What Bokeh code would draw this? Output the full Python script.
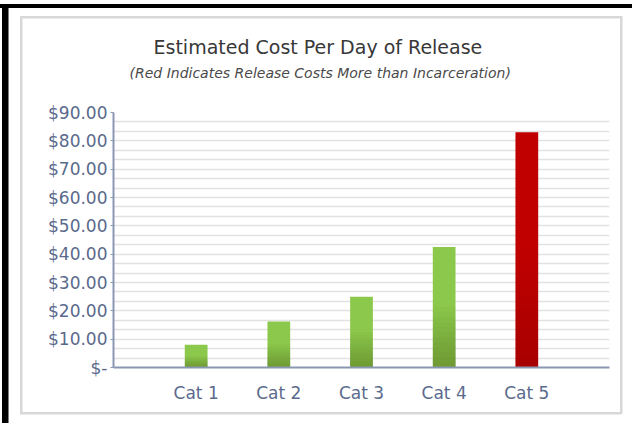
from bokeh.plotting import figure
from bokeh.models import Range1d, FixedTicker, Title
from bokeh.embed import file_html
from bokeh.resources import INLINE

# Data
categories = ["Cat 1", "Cat 2", "Cat 3", "Cat 4", "Cat 5"]
cost_per_day = [8.0, 16.25, 25.0, 42.5, 83.0]
exceeds_incarceration = [False, False, False, False, True]
y_ticks = [0, 10, 20, 30, 40, 50, 60, 70, 80, 90]
y_tick_labels = ["$-", "$10.00", "$20.00", "$30.00", "$40.00", "$50.00",
                 "$60.00", "$70.00", "$80.00", "$90.00"]

title_text = "Estimated Cost Per Day of Release"
subtitle_text = "(Red Indicates Release Costs More than Incarceration)"

GREEN = "#8cc84b"
RED = "#c00000"
AXIS = "#8a97b2"
LABEL = "#5a6a8c"
FONT = "DejaVu Sans"

W, H = 632, 423
FL, FR, FT, FB = 113, 23, 112, 56  # frame borders


def bar_line(w, h, x, y, color):
    # one solid rectangle painted into the page background
    return (f"linear-gradient({color},{color})", f"{w}px {h}px", f"{x}px {y}px")


decor = [
    bar_line(W, 4, 0, 3.5, "#000"),            # black top edge
    bar_line(6.5, H, 2, 3.5, "#000"),          # black left edge
    bar_line(601, 2.5, 20, 16, "#d8d8d8"),     # panel top
    bar_line(601, 2.5, 20, 411.5, "#d8d8d8"),  # panel bottom
    bar_line(2.5, 398, 20, 16, "#d8d8d8"),     # panel left
    bar_line(2.5, 398, 619.5, 16, "#d8d8d8"),  # panel right
]

p = figure(width=W, height=H, output_backend="svg", toolbar_location=None,
           x_range=Range1d(0, len(categories) + 1), y_range=Range1d(0, 90),
           min_border_left=FL, min_border_right=FR,
           min_border_top=FT, min_border_bottom=FB)
p.background_fill_color = "white"
p.border_fill_color = None
p.outline_line_color = None
p.styles = {
    "background-color": "white",
    "background-image": ", ".join(d[0] for d in decor),
    "background-size": ", ".join(d[1] for d in decor),
    "background-position": ", ".join(d[2] for d in decor),
    "background-repeat": "no-repeat",
}

xs = list(range(1, len(categories) + 1))
colors = [RED if e else GREEN for e in exceeds_incarceration]
shade_alpha = [0.008 if e else 0.022 for e in exceeds_incarceration]
bar_w = 0.275

p.vbar(x=xs, top=cost_per_day, width=bar_w, fill_color=colors, line_color=None)
# darker shading toward the base of each bar
for i in range(12):
    f = 0.5 * (1 - i / 12)
    p.vbar(x=xs, top=[v * f for v in cost_per_day], width=bar_w,
           fill_color="#2f3a10", fill_alpha=shade_alpha, line_color=None)

# grid: three light lines per $10 step
p.xgrid.visible = False
p.ygrid.ticker = FixedTicker(ticks=[i * 10 / 3 for i in range(1, 28)])
p.ygrid.grid_line_color = "#e2e2e2"
p.ygrid.grid_line_width = 1.5

# y axis
p.yaxis.ticker = FixedTicker(ticks=y_ticks)
p.yaxis.major_label_overrides = {t: l for t, l in zip(y_ticks, y_tick_labels)}
p.yaxis.minor_tick_line_color = None
p.yaxis.major_tick_in = 0
p.yaxis.major_tick_out = 3
p.yaxis.major_tick_line_color = AXIS
p.yaxis.major_label_standoff = 3

# x axis
p.xaxis.ticker = FixedTicker(ticks=xs)
p.xaxis.major_label_overrides = {x: c for x, c in zip(xs, categories)}
p.xaxis.major_tick_line_color = None
p.xaxis.minor_tick_line_color = None
p.xaxis.major_label_standoff = 9

for ax in (p.xaxis, p.yaxis):
    ax.axis_line_color = AXIS
    ax.axis_line_width = 2
    ax.major_label_text_font = FONT
    ax.major_label_text_font_size = "17px"
    ax.major_label_text_color = LABEL

# titles: a blank spacer keeps the subtitle clear of the plot frame
p.add_layout(Title(text=" ", text_font_size="1px", standoff=29), "above")
p.add_layout(Title(text=subtitle_text, align="left", offset=16, standoff=0,
                   text_font=FONT, text_font_size="14px", text_font_style="italic",
                   text_color="#4a4a4a"), "above")
p.add_layout(Title(text=title_text, align="left", offset=40, standoff=10,
                   text_font=FONT, text_font_size="19px", text_font_style="normal",
                   text_color="#383838"), "above")

open("out.html", "w").write(file_html(p, INLINE))
